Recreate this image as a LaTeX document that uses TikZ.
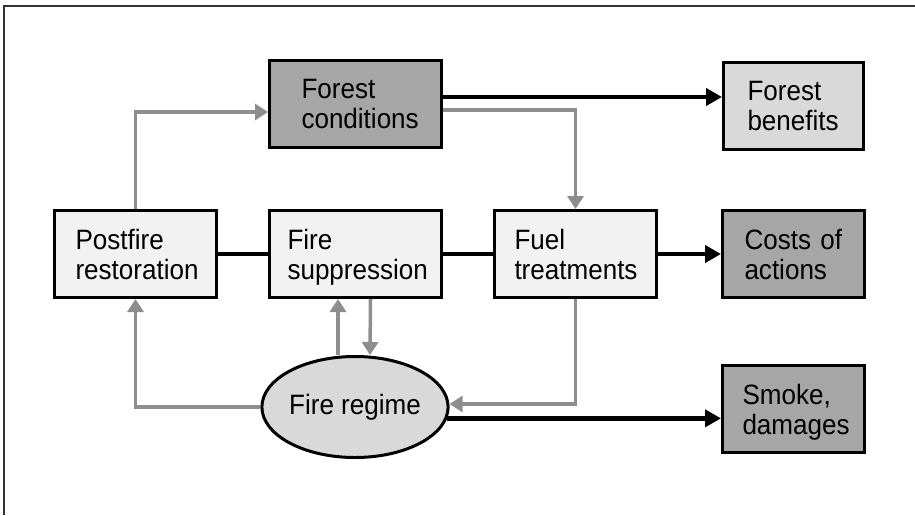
\documentclass[tikz,border=0pt]{standalone}
\usepackage{fontspec}
\setmainfont{Liberation Sans}[FakeStretch=0.93]
\usetikzlibrary{arrows.meta,shapes.geometric}

\definecolor{paleFill}{HTML}{F2F2F2}
\definecolor{midFill}{HTML}{D9D9D9}
\definecolor{darkFill}{HTML}{A6A6A6}
\definecolor{linkGray}{HTML}{8E8E8E}
\definecolor{frameGray}{HTML}{333333}

\tikzset{
  label font/.style={font=\fontsize{28}{30}\selectfont},
  box/.style={draw=black, line width=3pt, rectangle, minimum height=87pt,
    label font, align=left, inner ysep=0pt},
  wbox/.style args={#1/#2}{box, text width=#1pt-2*#2pt-3pt, inner xsep=#2pt},
  pale/.style={fill=paleFill},
  mid/.style={fill=midFill},
  dark/.style={fill=darkFill},
  regime/.style={draw=black, line width=3pt, ellipse, fill=midFill,
    minimum width=171pt, minimum height=101pt, inner sep=0pt, label font},
  blk/.style={draw=black, line width=4.5pt, -{Triangle[length=16pt,width=17pt]}},
  blkline/.style={draw=black, line width=4.5pt},
  gry/.style={draw=linkGray, line width=3.5pt, -{Triangle[length=13pt,width=16pt]}},
  frameline/.style={draw=frameGray, line width=2pt}
}

\begin{document}
\begin{tikzpicture}[x=1pt, y=-1pt]
  \useasboundingbox (0,0) rectangle (915,515);

  % outer frame (top and left edges only)
  \draw[frameline] (4,515) -- (4,6) -- (915,6);

  % boxes (descenders on a last line are smashed so all labels sit alike)
  \node[wbox=175/32, dark] (fc) at (355.5,104) {Forest\\conditions};
  \node[wbox=143/24, mid]  (fb) at (793.5,106) {Forest\\benefits};
  \node[wbox=165/21, pale] (pr) at (135.5,254) {Postfire\\restoration};
  \node[wbox=175/18, pale] (fs) at (355.5,254) {Fire\\\smash{suppression}};
  \node[wbox=165/20, pale] (ft) at (575.5,254) {Fuel\\treatments};
  \node[wbox=145/22, dark] (ca) at (793.5,254) {Costs of\\actions};
  \node[wbox=145/20, dark] (sd) at (793.5,409) {Smoke,\\\smash{damages}};
  \node[regime] (fr) at (355,407) {Fire regime};

  % main chain
  \draw[blkline] (pr.east) -- (fs.west);
  \draw[blkline] (fs.east) -- (ft.west);
  \draw[blk] (ft.east) -- (ca.west);
  \draw[blk] ([yshift=7pt]fc.east) -- ([yshift=7pt]fc.east -| fb.west);
  \draw[blk] (fr.-7.4) -- (fr.-7.4 -| sd.west);

  % feedback links
  \draw[gry] (pr.north) |- ([yshift=-8pt]fc.west);
  \draw[gry] ([yshift=-6pt]fc.east) -| (ft.north);
  \draw[gry] (fr.west) -| (pr.south);
  \draw[gry] ([xshift=-17pt]fr.north) -- ([xshift=-17pt]fr.north |- fs.south);
  \draw[gry] ([xshift=15pt]fs.south) -- ([xshift=15pt]fr.north);
  \draw[gry] (ft.south) |- ([yshift=3pt]fr.east);
\end{tikzpicture}
\end{document}
